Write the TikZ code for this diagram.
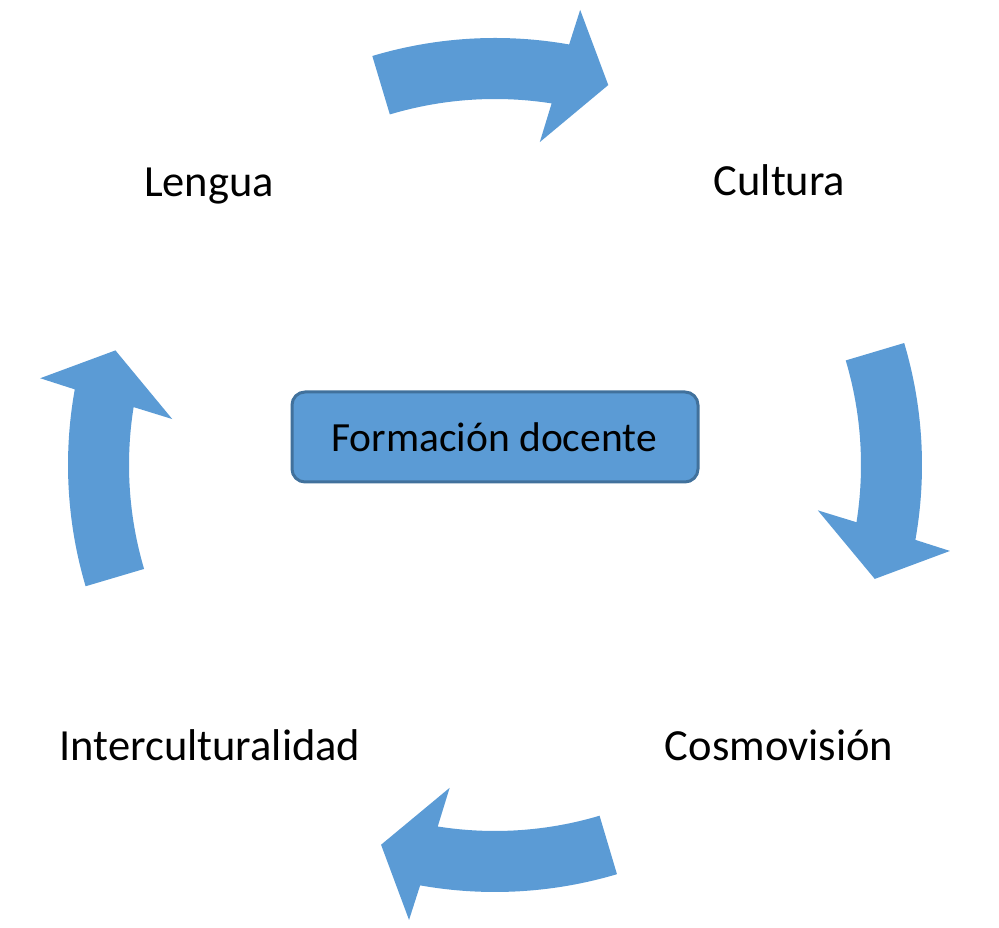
\documentclass[tikz,border=0pt]{standalone}
\usepackage{fontspec}
\setmainfont{Carlito}
\usetikzlibrary{calc}
\definecolor{arrowblue}{HTML}{5B9BD5}
\definecolor{boxborder}{HTML}{41719C}
\tikzset{
  arrowshape/.style={fill=arrowblue, draw=none},
  label/.style={anchor=base, inner sep=0pt, font=\fontsize{44.5}{52}\selectfont, text=black},
  boxtext/.style={anchor=base, inner sep=0pt, font=\fontsize{41.5}{50}\selectfont, text=black},
  centerbox/.style={draw=boxborder, fill=arrowblue, line width=3pt, rounded corners=13pt, minimum width=406pt, minimum height=90pt, inner sep=0pt}
}
\newcommand{\cyclearrow}[1]{%
  \fill[arrowshape] ($(C)+({#1}:427)$) arc[start angle={#1}, end angle={#1-26.7}, radius=427]
    -- ($(C)+({#1-27.3}:463)$) -- ($(C)+({#1-33.3}:396.5)$) -- ($(C)+({#1-24.6}:326)$)
    -- ($(C)+({#1-25.6}:366)$) arc[start angle={#1-25.6}, end angle={#1}, radius=366] -- cycle;}
\begin{document}
\begin{tikzpicture}[x=1pt,y=1pt]
\useasboundingbox (0,0) rectangle (999,928);
\coordinate (C) at (495,463);
\cyclearrow{106.7}
\cyclearrow{16.6}
\cyclearrow{-73.4}
\cyclearrow{-163.5}
\node[centerbox] (fd) at (495,491) {};
\node[boxtext] (fdt) at (494,476.3) {Formación docente};
\node[label] (lengua) at (209,731.3) {Lengua};
\node[label] (cultura) at (779.5,732) {Cultura};
\node[label] (cosmo) at (779,167) {Cosmovisión};
\node[label] (inter) at (210,167.3) {Interculturalidad};
\end{tikzpicture}
\end{document}
